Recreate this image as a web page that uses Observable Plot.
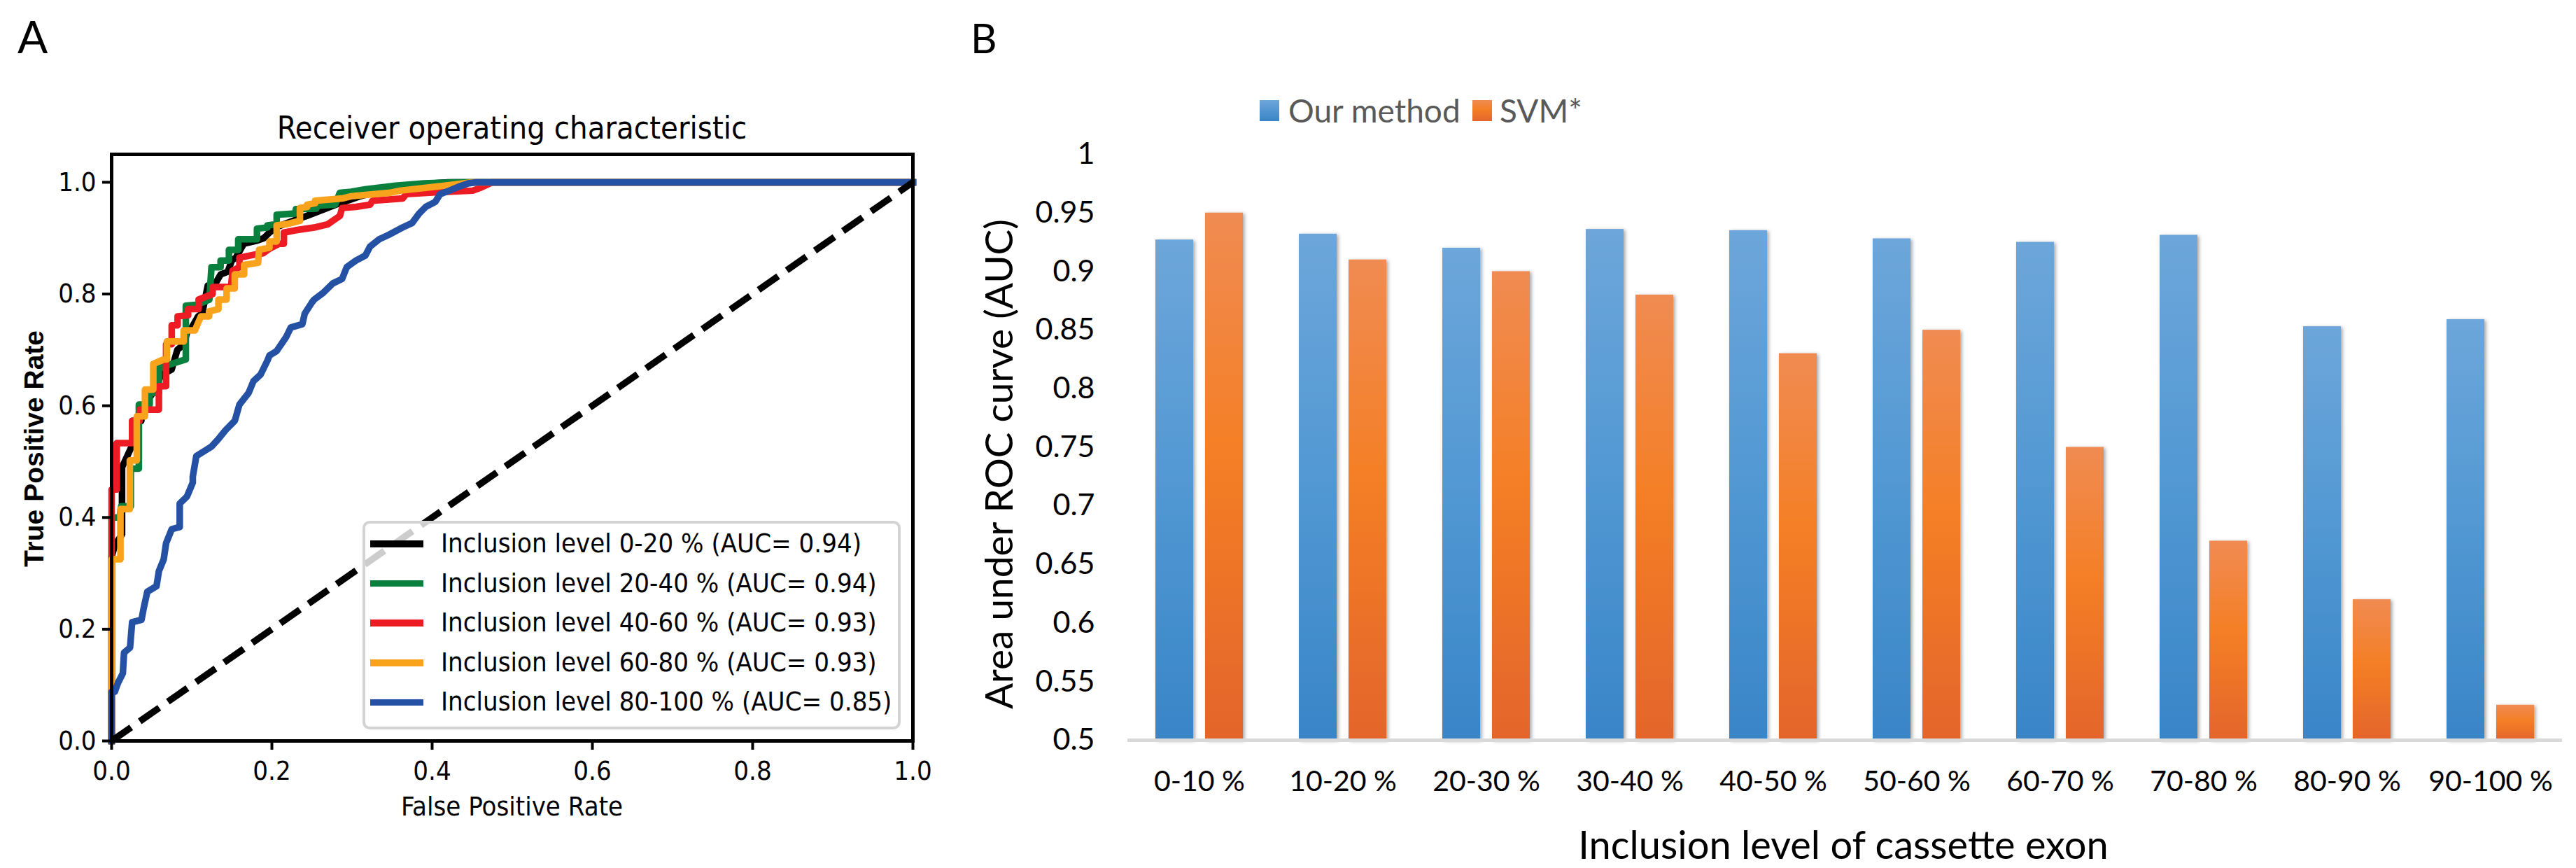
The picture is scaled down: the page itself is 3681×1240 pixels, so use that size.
<!DOCTYPE html>
<html>
<head>
<meta charset="utf-8">
<script src="https://cdn.jsdelivr.net/npm/d3@7"></script>
<script src="https://cdn.jsdelivr.net/npm/@observablehq/plot@0.6"></script>
<style>
html, body { margin: 0; padding: 0; background: #fff; overflow: hidden; }
#root { position: relative; width: 3681px; height: 1240px; background: #fff; overflow: hidden; }
.abs { position: absolute; white-space: nowrap; line-height: 1.2; }
</style>
</head>
<body>
<div id="root">
  <div id="panelA" style="position:absolute;left:0;top:0;"></div>
  <div id="panelB" style="position:absolute;left:1340px;top:0;"></div>
</div>
<script>
// ---------------- Panel A data: ROC curves (FPR, TPR) ----------------
const rocSeries = [
  "Inclusion level 0-20 % (AUC= 0.94)",
  "Inclusion level 20-40 % (AUC= 0.94)",
  "Inclusion level 40-60 % (AUC= 0.93)",
  "Inclusion level 60-80 % (AUC= 0.93)",
  "Inclusion level 80-100 % (AUC= 0.85)"
];
const rocColors = ["#000000", "#0a803e", "#ed1c24", "#f9a21b", "#2451a4"];

const roc0_20 = [[0,0],[0,0.33],[0.004,0.35],[0.013,0.37],[0.013,0.49],[0.026,0.53],[0.026,0.573],[0.037,0.573],[0.04,0.60],[0.05,0.62],[0.062,0.655],[0.075,0.665],[0.082,0.70],[0.09,0.71],[0.095,0.735],[0.10,0.74],[0.108,0.76],[0.113,0.765],[0.12,0.815],[0.13,0.82],[0.136,0.835],[0.145,0.84],[0.15,0.86],[0.155,0.865],[0.165,0.89],[0.18,0.895],[0.19,0.90],[0.197,0.91],[0.206,0.92],[0.23,0.933],[0.244,0.94],[0.28,0.96],[0.31,0.975],[0.35,0.99],[0.40,0.998],[0.42,1],[1,1]];
const roc20_40 = [[0,0],[0,0.40],[0.01,0.40],[0.012,0.42],[0.024,0.42],[0.024,0.4875],[0.034,0.4875],[0.034,0.602],[0.0475,0.602],[0.0475,0.623],[0.059,0.623],[0.059,0.667],[0.075,0.675],[0.0926,0.683],[0.0926,0.779],[0.107,0.781],[0.122,0.79],[0.1246,0.848],[0.136,0.848],[0.136,0.86],[0.1464,0.86],[0.1464,0.879],[0.158,0.879],[0.158,0.898],[0.1814,0.898],[0.1814,0.917],[0.1945,0.919],[0.1945,0.923],[0.206,0.925],[0.206,0.942],[0.229,0.944],[0.23,0.952],[0.2556,0.953],[0.2556,0.958],[0.279,0.96],[0.2847,0.981],[0.299,0.983],[0.3167,0.9875],[0.3546,0.994],[0.3895,0.998],[0.4274,1],[1,1]];
const roc40_60 = [[0,0],[0,0.45],[0.0064,0.45],[0.0064,0.533],[0.0256,0.533],[0.0256,0.573],[0.035,0.573],[0.035,0.593],[0.059,0.593],[0.059,0.635],[0.068,0.635],[0.068,0.71],[0.075,0.71],[0.075,0.744],[0.0824,0.744],[0.0824,0.76],[0.0955,0.762],[0.0955,0.773],[0.1086,0.773],[0.1086,0.79],[0.126,0.80],[0.126,0.8125],[0.149,0.8125],[0.151,0.842],[0.1595,0.848],[0.1595,0.865],[0.18,0.871],[0.189,0.873],[0.197,0.881],[0.209,0.89],[0.215,0.89],[0.215,0.91],[0.229,0.914],[0.2527,0.919],[0.27,0.925],[0.276,0.931],[0.285,0.94],[0.2876,0.954],[0.305,0.956],[0.3226,0.96],[0.3255,0.967],[0.3633,0.971],[0.3677,0.979],[0.404,0.982],[0.4507,0.985],[0.46,0.99],[0.475,1],[1,1]];
const roc60_80 = [[0,0],[0,0.325],[0.011,0.325],[0.011,0.415],[0.0227,0.415],[0.0227,0.502],[0.0314,0.502],[0.0314,0.581],[0.0416,0.581],[0.0416,0.629],[0.052,0.629],[0.052,0.675],[0.065,0.683],[0.069,0.683],[0.069,0.715],[0.09,0.715],[0.09,0.735],[0.104,0.735],[0.1115,0.76],[0.1217,0.76],[0.1217,0.769],[0.1333,0.773],[0.1333,0.79],[0.1435,0.79],[0.1435,0.81],[0.1537,0.81],[0.1537,0.835],[0.1654,0.835],[0.1654,0.852],[0.1828,0.856],[0.184,0.879],[0.197,0.883],[0.197,0.894],[0.206,0.894],[0.206,0.923],[0.2178,0.925],[0.235,0.931],[0.235,0.954],[0.244,0.956],[0.244,0.96],[0.254,0.9625],[0.254,0.967],[0.2876,0.971],[0.299,0.975],[0.346,0.981],[0.36,0.985],[0.404,0.992],[0.4215,0.995],[0.439,0.998],[0.45,1],[1,1]];
const roc80_100 = [[0,0],[0,0.088],[0.004,0.088],[0.008,0.104],[0.014,0.121],[0.0155,0.158],[0.023,0.167],[0.0256,0.2125],[0.0373,0.217],[0.040,0.2375],[0.0445,0.267],[0.056,0.277],[0.059,0.304],[0.065,0.325],[0.068,0.354],[0.075,0.379],[0.085,0.383],[0.085,0.425],[0.094,0.4375],[0.1013,0.4625],[0.1013,0.473],[0.1057,0.51],[0.1159,0.519],[0.1246,0.527],[0.133,0.54],[0.142,0.556],[0.1537,0.573],[0.1595,0.602],[0.171,0.623],[0.177,0.644],[0.186,0.656],[0.1945,0.681],[0.197,0.69],[0.206,0.698],[0.2178,0.723],[0.2236,0.74],[0.238,0.746],[0.241,0.765],[0.25,0.785],[0.2527,0.79],[0.264,0.802],[0.276,0.819],[0.2876,0.827],[0.2934,0.848],[0.305,0.86],[0.3167,0.869],[0.3225,0.885],[0.334,0.898],[0.3458,0.906],[0.363,0.919],[0.375,0.927],[0.3837,0.944],[0.392,0.956],[0.404,0.965],[0.41,0.979],[0.4215,0.985],[0.433,0.992],[0.445,0.998],[0.455,1],[1,1]];
const rocCurves = [roc0_20, roc20_40, roc40_60, roc60_80, roc80_100];

const chanceFpr = [0, 1];
const chanceTpr = [0, 1];
const rocTicks = [0, 0.2, 0.4, 0.6, 0.8, 1.0];

// ---------------- Panel B data: AUC per inclusion-level bin ----------------
const binLabels = ["0-10 %", "10-20 %", "20-30 %", "30-40 %", "40-50 %", "50-60 %", "60-70 %", "70-80 %", "80-90 %", "90-100 %"];
const methodNames = ["Our method", "SVM*"];
const ourMethodAuc = [0.927, 0.932, 0.920, 0.936, 0.935, 0.928, 0.925, 0.931, 0.853, 0.859];
const svmAuc = [0.95, 0.91, 0.90, 0.88, 0.83, 0.85, 0.75, 0.67, 0.62, 0.53];
const aucTicks = [0.5, 0.55, 0.6, 0.65, 0.7, 0.75, 0.8, 0.85, 0.9, 0.95, 1];

// ---------------- helpers ----------------
const COND = '"DejaVu Sans Condensed", "DejaVu Sans", sans-serif';
const LATO = 'Lato, "Open Sans", sans-serif';
const root = document.getElementById("root");

function label(text, o) {
  const d = document.createElement("div");
  d.className = "abs";
  d.textContent = text;
  d.style.left = o.x + "px";
  d.style.top = o.y + "px";
  d.style.fontSize = o.size + "px";
  d.style.fontFamily = o.family;
  d.style.fontWeight = o.weight || 400;
  d.style.color = o.color || "#000";
  const tx = o.anchor === "middle" ? "-50%" : o.anchor === "end" ? "-100%" : "0";
  d.style.transform = `translate(${tx}, -50%)` + (o.rotate ? ` rotate(${o.rotate}deg)` : "");
  root.appendChild(d);
  return d;
}
function box(o) {
  const d = document.createElement("div");
  d.className = "abs";
  Object.assign(d.style, o);
  root.appendChild(d);
  return d;
}

// ---------------- Panel A ----------------
const rocRows = rocCurves.flatMap((pts, i) => pts.map(([fpr, tpr]) => ({group: rocSeries[i], fpr, tpr})));
const chanceRows = chanceFpr.map((f, i) => ({fpr: f, tpr: chanceTpr[i]}));

const plotA = Plot.plot({
  width: 1340,
  height: 1240,
  marginLeft: 159,
  marginRight: 36,
  marginTop: 220,
  marginBottom: 182,
  style: {fontFamily: COND, fontSize: "38px", color: "#000", background: "transparent", overflow: "visible"},
  x: {domain: [0, 1]},
  y: {domain: [0, 1.05]},
  color: {domain: rocSeries, range: rocColors},
  marks: [
    Plot.line(rocRows, {x: "fpr", y: "tpr", z: "group", stroke: "group", strokeWidth: 9.5, strokeLinejoin: "round", strokeLinecap: "square"}),
    Plot.line(chanceRows, {x: "fpr", y: "tpr", stroke: "#000", strokeWidth: 9.5, strokeDasharray: "34 15", strokeLinecap: "butt"}),
    Plot.frame({stroke: "#000", strokeWidth: 5}),
    Plot.axisX({ticks: rocTicks, tickFormat: d3.format(".1f"), tickSize: 13, tickPadding: 16, strokeWidth: 4, fontSize: 38, label: null}),
    Plot.axisY({ticks: rocTicks, tickFormat: d3.format(".1f"), tickSize: 13, tickPadding: 9, strokeWidth: 4, fontSize: 38, label: null})
  ]
});
document.getElementById("panelA").appendChild(plotA);

// ---------------- Panel B ----------------
const barRows = binLabels.flatMap((bin, i) => [
  {bin, method: methodNames[0], auc: ourMethodAuc[i]},
  {bin, method: methodNames[1], auc: svmAuc[i]}
]);

const plotB = Plot.plot({
  width: 2341,
  height: 1240,
  marginLeft: 271,
  marginRight: 20,
  marginTop: 220,
  marginBottom: 183,
  style: {fontFamily: LATO, color: "#000", background: "transparent", overflow: "visible"},
  fx: {domain: binLabels, padding: 0, axis: null, label: null},
  x: {domain: methodNames, paddingInner: 0.245, paddingOuter: 0.556, axis: null},
  y: {domain: [0.5, 1], axis: null},
  marks: [
    Plot.barY(barRows.filter(d => d.method === methodNames[0]), {fx: "bin", x: "method", y1: 0.5, y2: "auc", fill: "url(#gradBlue)"}),
    Plot.barY(barRows.filter(d => d.method === methodNames[1]), {fx: "bin", x: "method", y1: 0.5, y2: "auc", fill: "url(#gradOrange)"}),
    Plot.ruleY([0.5], {stroke: "#d9d9d9", strokeWidth: 5}),
    Plot.axisY({ticks: aucTicks, tickFormat: d => String(+d.toFixed(2)), tickSize: 0, tickPadding: 47, fontSize: 43, label: null}),
    Plot.axisFx({anchor: "bottom", tickSize: 0, tickPadding: 43, fontSize: 41, label: null})
  ]
});
const NS = "http://www.w3.org/2000/svg";
const defs = document.createElementNS(NS, "defs");
defs.innerHTML = `
  <linearGradient id="gradBlue" x1="0" y1="0" x2="0" y2="1">
    <stop offset="0" stop-color="#6da6da"/>
    <stop offset="0.5" stop-color="#5198d3"/>
    <stop offset="1" stop-color="#3985c7"/>
  </linearGradient>
  <linearGradient id="gradOrange" x1="0" y1="0" x2="0" y2="1">
    <stop offset="0" stop-color="#f08b52"/>
    <stop offset="0.45" stop-color="#f47f26"/>
    <stop offset="1" stop-color="#e4652b"/>
  </linearGradient>
  <filter id="barShadow" x="-30%" y="-5%" width="160%" height="110%">
    <feDropShadow dx="2.5" dy="1.5" stdDeviation="2.5" flood-color="#000" flood-opacity="0.35"/>
  </filter>`;
plotB.insertBefore(defs, plotB.firstChild);
plotB.querySelectorAll('g[aria-label="bar"]').forEach(g => g.setAttribute("filter", "url(#barShadow)"));
document.getElementById("panelB").appendChild(plotB);

// ---------------- Texts and legends ----------------
label("A", {x: 25, y: 52, size: 64, family: LATO});
label("B", {x: 1387, y: 54, size: 58, family: LATO});

label("Receiver operating characteristic", {x: 731.5, y: 183, size: 45, family: COND, anchor: "middle"});
label("False Positive Rate", {x: 731.5, y: 1153, size: 38, family: COND, anchor: "middle"});
label("True Positive Rate", {x: 48.5, y: 641, size: 39, family: '"Liberation Sans", Arial, sans-serif', weight: 700, anchor: "middle", rotate: -90});

// Panel A legend
box({left: "518px", top: "744px", width: "769px", height: "298px", boxSizing: "border-box",
     border: "4px solid #d3d3d3", borderRadius: "10px", background: "rgba(255,255,255,0.8)"});
rocSeries.forEach((name, i) => {
  const cy = 777 + 56.6 * i;
  box({left: "529px", top: (cy - 4.75) + "px", width: "76px", height: "9.5px", background: rocColors[i]});
  label(name, {x: 630, y: cy, size: 38, family: COND});
});

// Panel B legend
const legendB = [
  {name: methodNames[0], grad: "linear-gradient(to bottom, #6da6da, #3985c7)", sx: 1800, tx: 1841},
  {name: methodNames[1], grad: "linear-gradient(to bottom, #f08b52, #f47f26 45%, #e4652b)", sx: 2104, tx: 2143}
];
legendB.forEach(e => {
  box({left: e.sx + "px", top: "143px", width: "28px", height: "30px", background: e.grad});
  label(e.name, {x: e.tx, y: 158, size: 46, family: LATO, color: "#595959"});
});

label("Inclusion level of cassette exon", {x: 2634, y: 1206, size: 56, family: LATO, anchor: "middle"});
label("Area under ROC curve (AUC)", {x: 1426, y: 663, size: 55, family: LATO, anchor: "middle", rotate: -90});
</script>
</body>
</html>
